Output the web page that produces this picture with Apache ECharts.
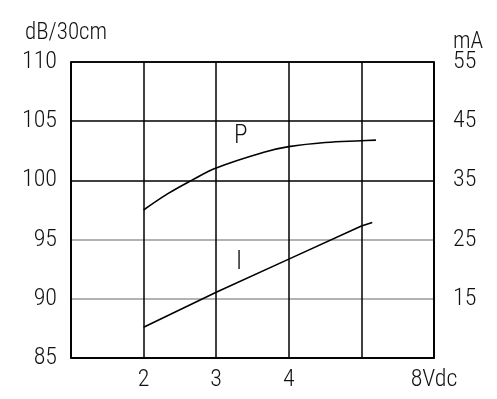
<!DOCTYPE html>
<html><head><meta charset="utf-8">
<script src="https://cdn.jsdelivr.net/npm/echarts@6/dist/echarts.min.js"></script>
<style>html,body{margin:0;padding:0;background:#fff}#c{width:497px;height:399px}</style>
</head><body><div id="c"></div>
<script>
// Data
const voltsP = [2, 2.34, 2.66, 3, 3.67, 4, 4.5, 5, 5.2];
const soundP = [97.5, 98.9, 100.0, 101.05, 102.4, 102.85, 103.2, 103.35, 103.4];
const voltsI = [2, 3, 4, 5, 5.15];
const currentI = [10.2, 16.1, 21.7, 27.3, 27.9];
const xTickLabels = {2: '2', 3: '3', 4: '4', 6: '8Vdc'};
const leftTitle = 'dB/30cm';
const rightTitle = 'mA';

const FONT = '"Roboto Condensed", "DejaVu Sans Condensed", sans-serif';
const TXT = '#111';
const FS = 24;
const chart = echarts.init(document.getElementById('c'), null, {renderer: 'canvas'});
chart.setOption({
  animation: false,
  backgroundColor: '#fff',
  grid: {left: 71, right: 63, top: 62, bottom: 41, show: true, borderColor: '#000', borderWidth: 1.5, backgroundColor: 'transparent'},
  xAxis: {
    type: 'value', min: 1, max: 6, interval: 1,
    axisLine: {show: true, lineStyle: {color: '#000', width: 1.5}},
    axisTick: {show: false},
    splitLine: {show: true, lineStyle: {color: '#000', width: 1.5}},
    axisLabel: {
      margin: 10, fontFamily: FONT, fontWeight: 300, fontSize: FS, color: TXT,
      formatter: v => xTickLabels[v] || ''
    }
  },
  yAxis: [{
    type: 'value', min: 85, max: 110, interval: 5,
    axisLine: {show: true, lineStyle: {color: '#000', width: 1.5}},
    axisTick: {show: false},
    splitLine: {show: true, lineStyle: {color: ['#000', '#999', '#999', '#000', '#000', '#000'], width: 1.5}},
    axisLabel: {margin: 14, fontFamily: FONT, fontWeight: 300, fontSize: FS, color: TXT}
  }, {
    type: 'value', min: 5, max: 55, interval: 10, position: 'right',
    axisLine: {show: true, lineStyle: {color: '#000', width: 1.5}},
    axisTick: {show: false},
    splitLine: {show: false},
    axisLabel: {margin: 19, fontFamily: FONT, fontWeight: 300, fontSize: FS, color: TXT, padding: [16, 0, 0, 0],
      formatter: v => v === 5 ? '' : String(v)}
  }],
  series: [{
    type: 'line', yAxisIndex: 0, smooth: 0.4, symbol: 'none',
    data: voltsP.map((v, i) => [v, soundP[i]]),
    lineStyle: {color: '#000', width: 1.6}
  }, {
    type: 'line', yAxisIndex: 1, smooth: false, symbol: 'none',
    data: voltsI.map((v, i) => [v, currentI[i]]),
    lineStyle: {color: '#000', width: 1.6}
  }],
  graphic: [
    {type: 'text', left: 25, top: 22, style: {text: leftTitle, font: '300 23px ' + FONT, fill: TXT}},
    {type: 'text', left: 453, top: 31, style: {text: rightTitle, font: '300 23px ' + FONT, fill: TXT}},
    {type: 'text', left: 234, top: 124, style: {text: 'P', font: '300 25px ' + FONT, fill: TXT}},
    {type: 'text', left: 236, top: 250, style: {text: 'I', font: '300 25px ' + FONT, fill: TXT}}
  ]
});
</script></body></html>
